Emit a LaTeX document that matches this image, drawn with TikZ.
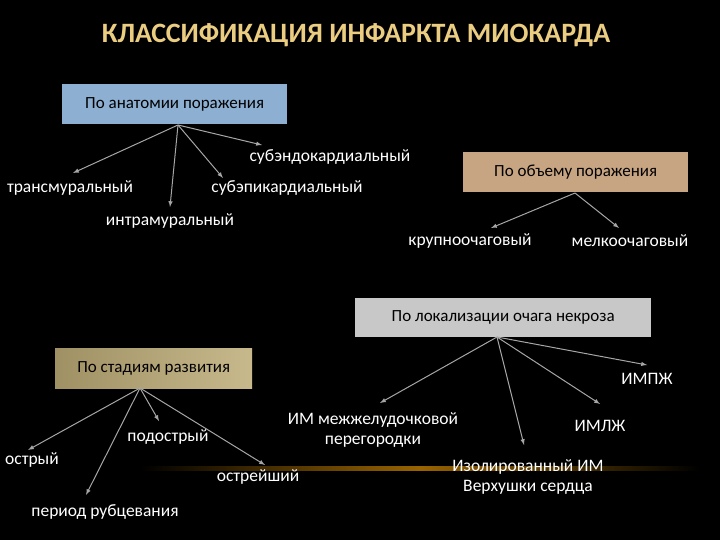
\documentclass[tikz,border=0pt]{standalone}
\usepackage{fontspec}
\setmainfont{Carlito}
\begin{document}
\begin{tikzpicture}[x=1pt,y=-1pt,
  lbl/.style={text=white,font=\fontsize{17.5}{20}\selectfont,align=center},
  btxt/.style={font=\fontsize{17}{19}\selectfont,text=black},
  box/.style={draw=none,inner sep=0pt,anchor=north west},
  arr/.style={draw=gray!70!white,line width=1pt,-latex}]
\fill[black] (0,0) rectangle (720,540);
\useasboundingbox (0,0) rectangle (720,540);
\fill[left color=black,right color=black,middle color=orange!70!yellow!60!black] (140,466) rectangle (700,470);
\node[text={rgb,255:red,235;green,205;blue,130},font=\bfseries\fontsize{28}{30}\selectfont] (title) at (356,35) {КЛАССИФИКАЦИЯ ИНФАРКТА МИОКАРДА};
% box1
\node[box,fill={rgb,255:red,140;green,175;blue,210},minimum width=225pt,minimum height=40pt] (b1) at (62,84) {};
\node[btxt] at (b1.center) {По анатомии поражения};
\coordinate (r1) at (178,125);
\node[lbl] (t1) at (70,188) {трансмуральный};
\node[lbl] (t2) at (330,157) {субэндокардиальный};
\node[lbl] (t3) at (287,188) {субэпикардиальный};
\node[lbl] (t4) at (170,221) {интрамуральный};
\coordinate (e1) at (73,173); \coordinate (e2) at (262,145);
\coordinate (e3) at (223,178); \coordinate (e4) at (170,207);
\foreach \e in {e1,e2,e3,e4} \draw[arr] (r1) -- (\e);
% box2
\node[box,fill={rgb,255:red,200;green,165;blue,130},minimum width=225pt,minimum height=40pt] (b2) at (463,152) {};
\node[btxt] at (b2.center) {По объему поражения};
\coordinate (r2) at (575,193);
\node[lbl] (u1) at (470,241) {крупноочаговый};
\node[lbl] (u2) at (630,241) {мелкоочаговый};
\coordinate (f1) at (491,228); \coordinate (f2) at (619,228);
\foreach \e in {f1,f2} \draw[arr] (r2) -- (\e);
% box3
\node[box,fill={rgb,255:red,200;green,200;blue,200},minimum width=296pt,minimum height=39pt] (b3) at (355,298) {};
\node[btxt] at (b3.center) {По локализации очага некроза};
\coordinate (r3) at (497,337);
\node[lbl] (v1) at (647,379) {ИМПЖ};
\node[lbl] (v2) at (600,426) {ИМЛЖ};
\node[lbl] (v3) at (373,430) {ИМ межжелудочковой\\перегородки};
\node[lbl] (v4) at (528,477) {Изолированный ИМ\\Верхушки сердца};
\coordinate (g1) at (647,365); \coordinate (g2) at (600,404);
\coordinate (g3) at (380,403); \coordinate (g4) at (524,445);
\foreach \e in {g1,g2,g3,g4} \draw[arr] (r3) -- (\e);
% box4
\node[box,left color={rgb,255:red,160;green,145;blue,100},right color={rgb,255:red,200;green,185;blue,140},minimum width=197pt,minimum height=40pt] (b4) at (55,348) {};
\node[btxt] at (b4.center) {По стадиям развития};
\coordinate (r4) at (140,388);
\node[lbl] (w1) at (168,437) {подострый};
\node[lbl] (w2) at (32,460) {острый};
\node[lbl] (w3) at (258,477) {острейший};
\node[lbl] (w4) at (105,512) {период рубцевания};
\coordinate (h1) at (159,421); \coordinate (h2) at (28,450);
\coordinate (h3) at (265,465); \coordinate (h4) at (86,495);
\foreach \e in {h1,h2,h3,h4} \draw[arr] (r4) -- (\e);
\end{tikzpicture}
\end{document}
